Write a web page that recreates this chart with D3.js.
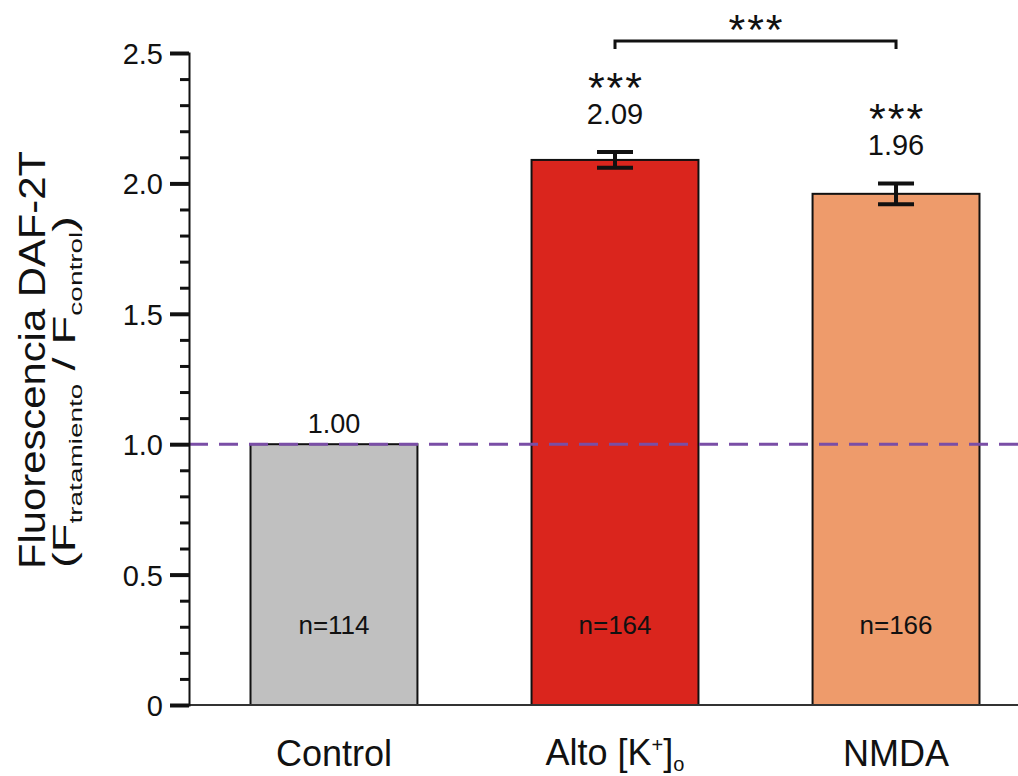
<!DOCTYPE html>
<html>
<head>
<meta charset="utf-8">
<script src="https://cdn.jsdelivr.net/npm/d3@7"></script>
<style>
  body { margin: 0; background: #fff; }
  svg { font-family: Arial, "Liberation Sans", sans-serif; }
</style>
</head>
<body>
<svg id="chart" width="1018" height="776"></svg>
<script>
// values
const categories = ["Control", "Alto", "NMDA"];
const means = [1.00, 2.09, 1.96];
const sems = [0, 0.03, 0.04];
const valueLabels = ["1.00", "2.09", "1.96"];
const nCounts = [114, 164, 166];
const stars = ["", "***", "***"];
const barColors = ["#c0c0c0", "#da251d", "#ee9b6b"];
const majorTicks = [0, 0.5, 1.0, 1.5, 2.0, 2.5];
const minorTicks = d3.range(0, 25).map(d => d / 10).filter(d => (d * 10) % 5 !== 0);
const bracketPair = ["Alto", "NMDA"];
const bracketLabel = "***";
const refLine = 1.0;

(function () {
  const svg = d3.select('#chart');
  const mLeft = 189, mTop = 53, mBottom = 705, mRight = 1018;

  const y = d3.scaleLinear().domain([0, 2.5]).range([mBottom, mTop]);
  const x = d3.scaleBand()
    .domain(categories)
    .range([mLeft - 2, 1043])
    .paddingInner(0.406)
    .paddingOuter(0.226);

  // bars
  svg.append('g')
    .selectAll('rect')
    .data(categories)
    .join('rect')
      .attr('x', d => x(d))
      .attr('y', (d, i) => y(means[i]))
      .attr('width', x.bandwidth())
      .attr('height', (d, i) => mBottom - y(means[i]))
      .attr('fill', (d, i) => barColors[i])
      .attr('stroke', '#111')
      .attr('stroke-width', 2);

  // x axis line
  svg.append('line')
    .attr('x1', mLeft).attr('x2', mRight)
    .attr('y1', mBottom).attr('y2', mBottom)
    .attr('stroke', '#333').attr('stroke-width', 2);

  // reference line at 1.0
  svg.append('line')
    .attr('x1', mLeft).attr('x2', mRight)
    .attr('y1', y(refLine)).attr('y2', y(refLine))
    .attr('stroke', '#7a4ea6')
    .attr('stroke-width', 3)
    .attr('stroke-dasharray', '19,11');

  // y axis
  const yAxis = svg.append('g')
    .attr('transform', `translate(${mLeft},0)`)
    .call(d3.axisLeft(y)
      .tickValues(majorTicks)
      .tickSize(19)
      .tickPadding(7)
      .tickFormat(d => d === 0 ? '0' : d3.format('.1f')(d)));
  yAxis.select('.domain').attr('stroke', '#111').attr('stroke-width', 2);
  yAxis.selectAll('.tick line').attr('stroke', '#111').attr('stroke-width', 4);
  yAxis.selectAll('.tick text')
    .attr('fill', '#111')
    .style('font-size', '29px')
    .attr('dy', '0.36em');

  const yMinor = svg.append('g')
    .attr('transform', `translate(${mLeft},0)`)
    .call(d3.axisLeft(y).tickValues(minorTicks).tickSize(9).tickFormat(''));
  yMinor.select('.domain').remove();
  yMinor.selectAll('.tick line').attr('stroke', '#111').attr('stroke-width', 3);

  // error bars
  const cx = d => x(d) + x.bandwidth() / 2;
  const errs = svg.append('g').attr('stroke', '#111').attr('stroke-width', 4).attr('fill', 'none');
  categories.forEach((c, i) => {
    if (!sems[i]) return;
    const hi = y(means[i] + sems[i]), lo = y(means[i] - sems[i]);
    errs.append('path')
      .attr('d', `M${cx(c) - 18},${hi}H${cx(c) + 18}M${cx(c)},${hi}V${lo}M${cx(c) - 18},${lo}H${cx(c) + 18}`);
  });

  // value labels with stars stacked above, in one text element
  const labels = svg.append('g').attr('fill', '#111').attr('text-anchor', 'middle');
  categories.forEach((c, i) => {
    const base = y(means[i] + sems[i]) - (sems[i] ? 28 : 11);
    if (stars[i]) {
      const t = labels.append('text').attr('x', cx(c)).attr('y', base - 22);
      t.append('tspan')
        .attr('x', cx(c) + 1)
        .style('font-size', '43px')
        .style('letter-spacing', '2px')
        .text(stars[i]);
      t.append('tspan')
        .attr('x', cx(c)).attr('dy', 22)
        .style('font-size', '29px')
        .text(valueLabels[i]);
    } else {
      labels.append('text')
        .attr('x', cx(c)).attr('y', base)
        .style('font-size', '27px')
        .text(valueLabels[i]);
    }
    labels.append('text')
      .attr('x', cx(c)).attr('y', 634)
      .style('font-size', '26px')
      .text('n=' + nCounts[i]);
  });

  // comparison bracket
  const bx1 = cx(bracketPair[0]), bx2 = cx(bracketPair[1]);
  svg.append('path')
    .attr('d', `M${bx1},49V41H${bx2}V49`)
    .attr('fill', 'none').attr('stroke', '#111').attr('stroke-width', 3);
  svg.append('text')
    .attr('x', (bx1 + bx2) / 2 + 1).attr('y', 44)
    .attr('text-anchor', 'middle')
    .style('font-size', '43px')
    .style('letter-spacing', '2px')
    .attr('fill', '#111')
    .text(bracketLabel);

  // category labels
  const xl = svg.append('g').attr('fill', '#111').attr('text-anchor', 'middle').style('font-size', '36px');
  xl.append('text').attr('x', cx('Control')).attr('y', 766).text('Control');
  xl.append('text').attr('x', cx('NMDA')).attr('y', 766).text('NMDA');
  const alto = xl.append('text').attr('x', cx('Alto')).attr('y', 765);
  alto.append('tspan').text('Alto [K');
  alto.append('tspan').attr('dy', -13).style('font-size', '20px').text('+');
  alto.append('tspan').attr('dy', 13).text(']');
  alto.append('tspan').attr('dy', 6).style('font-size', '20px').text('o');

  // y title
  svg.append('text')
    .attr('transform', `translate(45,360) rotate(-90)`)
    .attr('text-anchor', 'middle')
    .attr('textLength', 418)
    .attr('lengthAdjust', 'spacingAndGlyphs')
    .style('font-size', '36px').attr('fill', '#111')
    .text('Fluorescencia  DAF-2T');
  const t2 = svg.append('text')
    .attr('transform', `translate(75,392) rotate(-90)`)
    .attr('text-anchor', 'middle')
    .attr('textLength', 352)
    .attr('lengthAdjust', 'spacingAndGlyphs')
    .style('font-size', '32px').attr('fill', '#111');
  t2.append('tspan').text('(F');
  t2.append('tspan').attr('dy', 7).style('font-size', '19px').text('tratamiento');
  t2.append('tspan').attr('dy', -7).text(' / F');
  t2.append('tspan').attr('dy', 7).style('font-size', '19px').text('control');
  t2.append('tspan').attr('dy', -7).text(')');
})();
</script>
</body>
</html>
